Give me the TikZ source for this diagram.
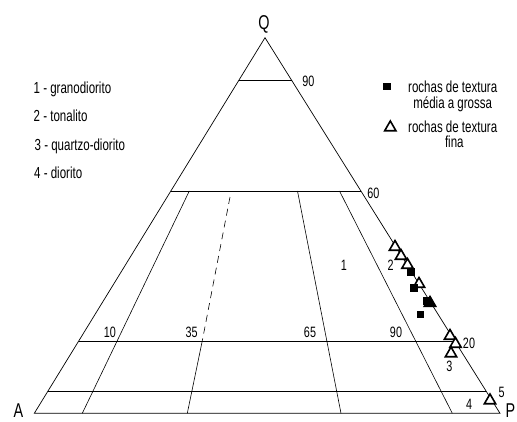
\documentclass[tikz,border=0pt]{standalone}
\usepackage{fontspec}
\setmainfont{Liberation Sans}[FakeStretch=0.72]
\usetikzlibrary{calc,shapes.geometric}
\begin{document}
\begin{tikzpicture}[x=1pt,y=-1pt,
  edge/.style={line width=0.7pt,black},
  grid/.style={line width=0.6pt,black},
  dashline/.style={line width=0.6pt,black,dash pattern=on 7pt off 5pt},
  lbl/.style={inner sep=0pt,font=\fontsize{15}{17}\selectfont},
  vtx/.style={inner sep=0pt,anchor=base,font=\fontsize{20}{22}\selectfont},
  leg/.style={inner sep=0pt,anchor=base west,font=\fontsize{16}{18}\selectfont},
  legc/.style={inner sep=0pt,anchor=base,font=\fontsize{16}{18}\selectfont},
  tri/.style={draw,fill=white,line width=1.6pt,regular polygon,regular polygon sides=3,minimum size=13pt,inner sep=0pt},
  ftri/.style={tri,fill=black},
  sq/.style={fill=black,minimum size=7.5pt,inner sep=0pt}
]
\useasboundingbox (0,0) rectangle (517,421);
% vertices
\coordinate (Q) at (265,37.7);
\coordinate (A) at (34.3,413.3);
\coordinate (P) at (500,413.3);
% horizontal lines
\coordinate (l90) at ($(A)!0.886!(Q)$);
\coordinate (r90) at ($(P)!0.886!(Q)$);
\coordinate (l60) at ($(A)!0.592!(Q)$);
\coordinate (r60) at ($(P)!0.592!(Q)$);
\coordinate (l20) at ($(A)!0.193!(Q)$);
\coordinate (r20) at ($(P)!0.193!(Q)$);
\coordinate (l5) at ($(A)!0.0594!(Q)$);
\coordinate (r5) at ($(P)!0.0594!(Q)$);
% radial lines
\coordinate (t10) at (189.3,191);
\coordinate (b10) at (82.3,413.3);
\coordinate (t35) at (230,197);
\coordinate (m35) at (202.3,340.7);
\coordinate (b35) at (187.3,413.3);
\coordinate (t65) at (297.5,191);
\coordinate (b65) at (341,413.3);
\coordinate (t90) at (339.5,191);
\coordinate (b90) at (452.3,413.3);

\draw[edge] (A) -- (Q) -- (P) -- cycle;
\draw[grid] (l90) -- (r90);
\draw[grid] (l60) -- (r60);
\draw[grid] (l20) -- (r20);
\draw[grid] (l5) -- (r5);
\draw[grid] (t10) -- (b10);
\draw[dashline] (t35) -- (m35);
\draw[grid] (m35) -- (b35);
\draw[grid] (t65) -- (b65);
\draw[grid] (t90) -- (b90);

% vertex labels
\node[vtx] (lQ) at (264,29.5) {Q};
\node[vtx] (lA) at (18.5,417) {A};
\node[vtx,anchor=base west] (lP) at (505.5,417) {P};

% numbers
\node[lbl] (n90a) at (308.3,81.7) {90};
\node[lbl] (n60) at (373.3,193.3) {60};
\node[lbl] (n10) at (110,332.7) {10};
\node[lbl] (n35) at (191.7,332.7) {35};
\node[lbl] (n65) at (310,332.7) {65};
\node[lbl] (n90b) at (396,332.7) {90};
\node[lbl] (f1) at (344,265.7) {1};
\node[lbl] (f2) at (390.7,265.7) {2};
\node[lbl] (n20) at (469,343) {20};
\node[lbl] (f3) at (449.3,366.5) {3};
\node[lbl] (n5) at (501.5,392) {5};
\node[lbl] (f4) at (469,404.5) {4};

% left legend
\node[leg] (g1) at (33.5,93) {1 - granodiorito};
\node[leg] (g2) at (33.5,121.7) {2 - tonalito};
\node[leg] (g3) at (34.5,150) {3 - quartzo-diorito};
\node[leg] (g4) at (34,178.3) {4 - diorito};

% right legend
\node[sq] (ks) at (387,86.3) {};
\node[legc] (kt1) at (452.7,92.7) {rochas de textura};
\node[legc] (kt2) at (452.7,108.3) {média a grossa};
\node[tri] (kt) at (390.3,127.5) {};
\node[legc] (kt3) at (452.7,132.2) {rochas de textura};
\node[legc] (kt4) at (454.3,147.5) {fina};

% data points
\node[tri] (d1) at (395,247) {};
\node[tri] (d2) at (401,256) {};
\node[tri] (d3) at (407.5,265) {};
\node[tri] (d4) at (419,284) {};
\node[sq] (s3) at (427,301) {};
\node[ftri] (d5) at (430,303) {};
\node[tri] (d6) at (450,336) {};
\node[tri] (d7) at (455.5,344) {};
\node[tri] (d8) at (451,353.5) {};
\node[tri] (d9) at (490,400.5) {};
\node[sq] (s1) at (411,272) {};
\node[sq] (s2) at (414,288) {};
\node[sq] (s4) at (420.7,314.5) {};
\end{tikzpicture}
\end{document}
